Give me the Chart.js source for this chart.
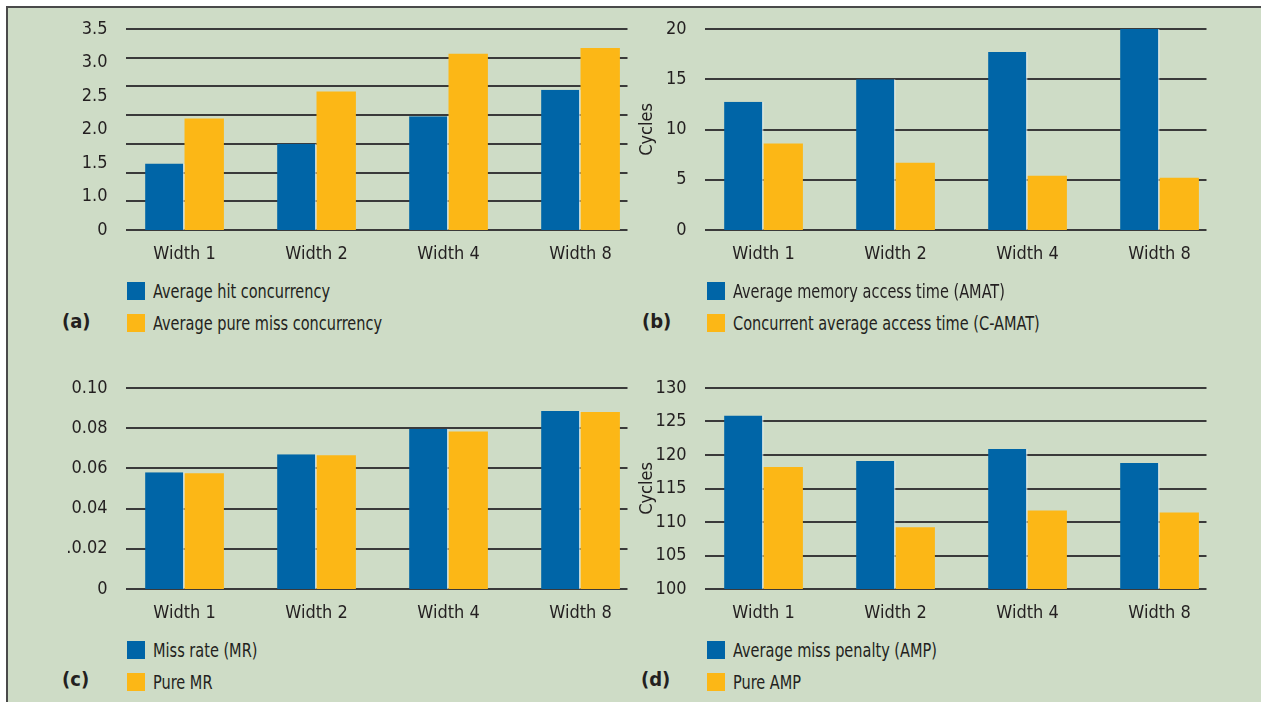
<!DOCTYPE html>
<html>
<head>
<meta charset="utf-8">
<script src="https://cdn.jsdelivr.net/npm/chart.js@4.4.1/dist/chart.umd.min.js"></script>
<style>
  body { margin: 0; background: #fff; width: 1261px; height: 702px; overflow: hidden; position: relative;
         font-family: "Liberation Sans Narrow", "DejaVu Sans Condensed", sans-serif; color: #231f20; }
  #frame { position: absolute; left: 6px; top: 6px; width: 1255px; height: 696px; background: #cedcc6;
           border-top: 2px solid #4a4a4a; border-left: 2px solid #4a4a4a; }
  canvas { position: absolute; }
  .legend { position: absolute; font-size: 19px; }
  .legend .row { display: flex; align-items: center; height: 18px; margin-bottom: 14px; white-space: nowrap; }
  .legend .box { width: 18px; height: 18px; margin-right: 8px; flex: none; }
  .legend .txt { display: inline-block; transform: scaleX(0.85); transform-origin: left center; }
  .tag { position: absolute; font-size: 20px; font-weight: bold; }
</style>
</head>
<body>
<div id="frame"></div>
<canvas id="chartA" width="660" height="280" style="left:0px;top:0px"></canvas>
<canvas id="chartB" width="660" height="280" style="left:579px;top:0px"></canvas>
<canvas id="chartC" width="660" height="280" style="left:0px;top:358.5px"></canvas>
<canvas id="chartD" width="660" height="280" style="left:579px;top:358.5px"></canvas>
<script>
// data
const widths = ['Width 1', 'Width 2', 'Width 4', 'Width 8']

const hit_conc = [1.16, 1.50, 1.98, 2.44]
const pure_miss_conc = [1.94, 2.41, 3.07, 3.17]
const a_tick_labels = ['0', '1.0', '1.5', '2.0', '2.5', '3.0', '3.5']

const amat = [12.77, 15.0, 17.7, 20.0]
const c_amat = [8.6, 6.7, 5.4, 5.2]

const miss_rate = [0.0581, 0.0670, 0.0797, 0.0886]
const pure_mr = [0.0576, 0.0665, 0.0784, 0.0881]
const c_tick_labels = ['0', '.0.02', '0.04', '0.06', '0.08', '0.10']

const amp = [125.9, 119.1, 120.9, 118.8]
const pure_amp = [118.2, 109.2, 111.7, 111.4]

const legend_a = ['Average hit concurrency', 'Average pure miss concurrency']
const legend_b = ['Average memory access time (AMAT)', 'Concurrent average access time (C-AMAT)']
const legend_c = ['Miss rate (MR)', 'Pure MR']
const legend_d = ['Average miss penalty (AMP)', 'Pure AMP']

const BLUE = '#0065a7'
const ORANGE = '#fcb716'
const TEXT = '#231f20'

Chart.defaults.font.family = '"Liberation Sans Narrow", "DejaVu Sans Condensed", sans-serif'
Chart.defaults.font.size = 18
Chart.defaults.color = TEXT

// horizontal rules, drawn behind the bars and a bit shorter than the chart area
const gridPlugin = {
  id: 'rules',
  beforeDatasetsDraw(chart, args, o) {
    const sc = chart.scales[o.axis]
    const ca = chart.chartArea
    const ctx = chart.ctx
    ctx.save()
    ctx.strokeStyle = '#3a3a3a'
    ctx.lineWidth = 2
    sc.ticks.forEach(t => {
      const y = Math.round(sc.getPixelForValue(t.value))
      ctx.beginPath()
      ctx.moveTo(ca.left + 7.5, y)
      ctx.lineTo(ca.right - 19, y)
      ctx.stroke()
    })
    ctx.restore()
  }
}

function makeChart(id, s1, s2, yScales, ruleAxis, yAxisID) {
  const ctx = document.getElementById(id).getContext('2d')
  const scales = Object.assign({
    x: {
      grid: { display: false },
      border: { display: false },
      ticks: { padding: 6, color: TEXT },
      afterFit: s => { s.height = 30 }
    }
  }, yScales)
  return new Chart(ctx, {
    type: 'bar',
    data: {
      labels: widths,
      datasets: [
        { data: s1, backgroundColor: BLUE, borderColor: 'rgba(255,255,255,0.85)',
          borderWidth: { top: 0, left: 0, bottom: 0, right: 1.3 }, borderSkipped: false, yAxisID: yAxisID },
        { data: s2, backgroundColor: ORANGE, borderWidth: 0, yAxisID: yAxisID }
      ]
    },
    options: {
      responsive: false,
      animation: false,
      categoryPercentage: 0.597,
      barPercentage: 1,
      layout: { padding: { left: 0, right: 13.5, top: 29, bottom: 20 } },
      plugins: { legend: { display: false }, tooltip: { enabled: false }, rules: { axis: ruleAxis } },
      scales: scales
    },
    plugins: [gridPlugin]
  })
}

function yAxis(extra) {
  return Object.assign({
    position: 'left',
    grid: { display: false },
    border: { display: false },
    afterFit: s => { s.width = 118.5 }
  }, extra)
}

// (a) rules every 0.5, printed labels spread evenly as in the original
makeChart('chartA', hit_conc, pure_miss_conc, {
  yg: { type: 'linear', display: false, min: 0, max: 3.5, ticks: { stepSize: 0.5 } },
  y: yAxis({ min: 0, max: 6, ticks: { stepSize: 1, padding: 3, color: TEXT, callback: v => a_tick_labels[v] } })
}, 'yg', 'yg')

makeChart('chartB', amat, c_amat, {
  y: yAxis({ min: 0, max: 20, ticks: { stepSize: 5, padding: 3, color: TEXT },
    title: { display: true, text: 'Cycles', color: TEXT, font: { size: 18 }, padding: { top: 58, bottom: 0 } } })
}, 'y', 'y')

makeChart('chartC', miss_rate, pure_mr, {
  y: yAxis({ min: 0, max: 0.1, ticks: { stepSize: 0.02, padding: 3, color: TEXT, callback: (v, i) => c_tick_labels[i] } })
}, 'y', 'y')

makeChart('chartD', amp, pure_amp, {
  y: yAxis({ min: 100, max: 130, ticks: { stepSize: 5, padding: 3, color: TEXT },
    title: { display: true, text: 'Cycles', color: TEXT, font: { size: 18 }, padding: { top: 58, bottom: 0 } } })
}, 'y', 'y')

// legends and panel tags
function addLegend(items, left, top) {
  const div = document.createElement('div')
  div.className = 'legend'
  div.style.left = left + 'px'
  div.style.top = top + 'px'
  items.forEach((txt, i) => {
    const row = document.createElement('div')
    row.className = 'row'
    const box = document.createElement('span')
    box.className = 'box'
    box.style.background = i === 0 ? BLUE : ORANGE
    const label = document.createElement('span')
    label.className = 'txt'
    label.textContent = txt
    row.appendChild(box)
    row.appendChild(label)
    div.appendChild(row)
  })
  document.body.appendChild(div)
}

function addTag(txt, left, top) {
  const t = document.createElement('div')
  t.className = 'tag'
  t.textContent = txt
  t.style.left = left + 'px'
  t.style.top = top + 'px'
  document.body.appendChild(t)
}

addLegend(legend_a, 127, 282)
addLegend(legend_b, 707, 282)
addLegend(legend_c, 127, 641)
addLegend(legend_d, 707, 641)
addTag('(a)', 62, 309)
addTag('(b)', 642, 309)
addTag('(c)', 62, 667)
addTag('(d)', 641, 667)
</script>
</body>
</html>
